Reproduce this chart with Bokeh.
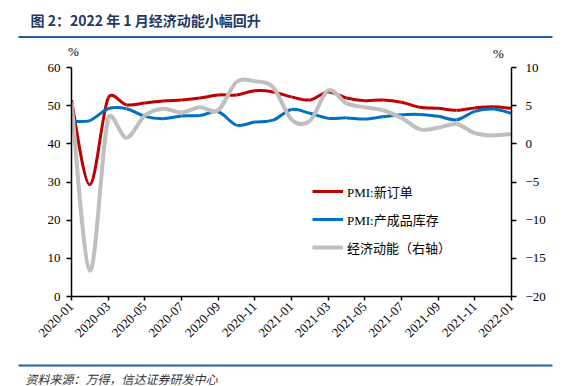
import math
from bokeh.plotting import figure
from bokeh.models import (Range1d, LinearAxis, FixedTicker, Label, BoxAnnotation,
                          Legend, LegendItem, ColumnDataSource)
from bokeh.embed import file_html
from bokeh.resources import INLINE

# ---------------- data ----------------
months = ["2020-01", "2020-02", "2020-03", "2020-04", "2020-05", "2020-06", "2020-07",
          "2020-08", "2020-09", "2020-10", "2020-11", "2020-12", "2021-01", "2021-02",
          "2021-03", "2021-04", "2021-05", "2021-06", "2021-07", "2021-08", "2021-09",
          "2021-10", "2021-11", "2021-12", "2022-01"]
pmi_new_orders = [51.4, 29.3, 52.0, 50.2, 50.7, 51.2, 51.5, 52.0, 52.8, 52.8, 53.9, 53.6,
                  52.3, 51.5, 53.6, 52.0, 51.3, 51.5, 50.9, 49.6, 49.3, 48.8, 49.4, 49.7, 49.3]
pmi_inventory = [46.0, 46.1, 49.2, 49.2, 47.2, 46.6, 47.3, 47.4, 48.4, 44.9, 45.7, 46.2,
                 49.0, 48.0, 46.7, 46.8, 46.5, 47.1, 47.6, 47.7, 47.2, 46.3, 48.5, 49.1, 48.0]
momentum = [5.5, -16.6, 3.3, 0.8, 3.7, 4.6, 4.1, 4.8, 4.4, 8.1, 8.2, 7.4,
            3.2, 3.0, 7.0, 5.3, 4.8, 4.4, 3.4, 1.9, 2.1, 2.6, 1.4, 1.1, 1.3]
left_ticks = [0, 10, 20, 30, 40, 50, 60]
right_ticks = [-20, -15, -10, -5, 0, 5, 10]
x_tick_months = months[::2]

names = ["PMI:新订单", "PMI:产成品库存", "经济动能（右轴）"]
colors = ["#C00000", "#0070C0", "#BFBFBF"]
title_text = "图 2：2022 年 1 月经济动能小幅回升"
source_text = "资料来源：万得，信达证券研发中心"

xs = list(range(len(months)))

W = 579
TOP_H, MAIN_H, BOT_H = 60, 298, 28
FL, FR, FT, FB = 71, 68, 7, 62          # borders around the main plotting frame
px_x = (W - FL - FR) / (len(months) - 1)
frame_h = MAIN_H - FT - FB
RULE = "#2062A4"


def smooth_segments(x, y, ypx):
    """Excel-like smoothing: Bezier control points, curve passes through every value."""
    n = len(x)
    pts = [(xi * px_x, yi * ypx) for xi, yi in zip(x, y)]

    def dist(a, b):
        return math.hypot(pts[a][0] - pts[b][0], pts[a][1] - pts[b][1])

    d = dict(x0=[], y0=[], x1=[], y1=[], cx0=[], cy0=[], cx1=[], cy1=[])
    for i in range(n - 1):
        i0 = max(i - 1, 0)
        i3 = min(i + 2, n - 1)
        d12 = dist(i, i + 1)
        d02 = dist(i0, i + 1)
        d13 = dist(i, i3)
        f0 = 1 / 6 if d02 / 6 < d12 / 2 else (d12 / 2) / d02
        f1 = 1 / 6 if d13 / 6 < d12 / 2 else (d12 / 2) / d13
        d["x0"].append(x[i]); d["y0"].append(y[i])
        d["x1"].append(x[i + 1]); d["y1"].append(y[i + 1])
        d["cx0"].append(x[i] + (x[i + 1] - x[i0]) * f0)
        d["cy0"].append(y[i] + (y[i + 1] - y[i0]) * f0)
        d["cx1"].append(x[i + 1] - (x[i3] - x[i]) * f1)
        d["cy1"].append(y[i + 1] - (y[i3] - y[i]) * f1)
    return ColumnDataSource(d)


def blank_fig(h):
    f = figure(width=W, height=h, output_backend="svg", toolbar_location=None,
               x_range=Range1d(0, W), y_range=Range1d(h, 0),
               x_axis_type=None, y_axis_type=None, min_border=0)
    f.outline_line_color = None
    f.xgrid.visible = False
    f.ygrid.visible = False
    f.background_fill_color = "white"
    f.border_fill_color = "white"
    return f


# ---------------- header: title, rule, unit marks ----------------
top = blank_fig(TOP_H)
top.add_layout(Label(x=30, y=19, text=title_text,
                     text_font="Noto Sans CJK SC", text_font_style="bold",
                     text_font_size="14px", text_color="#1F3864",
                     text_align="left", text_baseline="middle"))
top.add_layout(BoxAnnotation(left=18, right=552, top=35.5, bottom=37.5,
                             fill_color=RULE, fill_alpha=1, line_color=None))
top.add_layout(Label(x=73, y=51, text="%", text_font="Liberation Serif",
                     text_font_size="13px", text_color="black",
                     text_align="center", text_baseline="middle"))
top.add_layout(Label(x=498, y=52.5, text="%", text_font="Liberation Serif",
                     text_font_size="13px", text_color="black",
                     text_align="center", text_baseline="middle"))

# ---------------- main chart ----------------
p = figure(width=W, height=MAIN_H, output_backend="svg", toolbar_location=None,
           x_range=Range1d(0, len(months) - 1), y_range=Range1d(0, 60),
           min_border_left=FL, min_border_right=FR, min_border_top=FT, min_border_bottom=FB)
p.outline_line_color = None
p.xgrid.visible = False
p.ygrid.visible = False
p.background_fill_color = "white"
p.border_fill_color = "white"
p.extra_y_ranges = {"right": Range1d(-20, 10)}

tick_font = "Liberation Serif"


def style_axis(ax, standoff, tick_out=5):
    ax.axis_line_color = "black"
    ax.axis_line_width = 1.5
    ax.major_tick_line_color = "black"
    ax.major_tick_line_width = 1.5
    ax.major_tick_out = tick_out
    ax.major_tick_in = 0
    ax.minor_tick_line_color = None
    ax.major_label_text_font = tick_font
    ax.major_label_text_font_size = "13px"
    ax.major_label_text_color = "black"
    ax.major_label_standoff = standoff


ya = p.yaxis[0]
ya.ticker = FixedTicker(ticks=left_ticks)
style_axis(ya, 6)

ra = LinearAxis(y_range_name="right", ticker=FixedTicker(ticks=right_ticks))
style_axis(ra, 9)
p.add_layout(ra, "right")

xa = p.xaxis[0]
xa.ticker = FixedTicker(ticks=xs[::2])
xa.major_label_overrides = {i: m for i, m in zip(xs[::2], x_tick_months)}
xa.major_label_orientation = math.pi / 4
style_axis(xa, 4, 4)

series = [(pmi_new_orders, "default", 3, frame_h / 60),
          (pmi_inventory, "default", 3, frame_h / 60),
          (momentum, "right", 4, frame_h / 30)]
legend_items = []
for (vals, rng, lw, ypx), name, col in zip(series, names, colors):
    src = smooth_segments(xs, vals, ypx)
    p.bezier(x0="x0", y0="y0", x1="x1", y1="y1", cx0="cx0", cy0="cy0", cx1="cx1", cy1="cy1",
             source=src, line_color=col, line_width=lw, y_range_name=rng)
    proxy = p.line(x=xs[:1], y=vals[:1], line_color=col, line_width=lw, y_range_name=rng)
    legend_items.append(LegendItem(label=name, renderers=[proxy]))

legend = Legend(items=legend_items, location=(241, 39), orientation="vertical",
                label_text_font="Liberation Serif, Noto Sans CJK SC",
                label_text_font_size="13px", label_text_color="black",
                glyph_width=31, glyph_height=20, spacing=8, padding=0, margin=0,
                label_standoff=4, border_line_color=None, background_fill_alpha=0)
p.add_layout(legend, "center")

# ---------------- footer: rule and source ----------------
bot = blank_fig(BOT_H)
bot.add_layout(BoxAnnotation(left=18, right=552, top=6, bottom=8,
                             fill_color=RULE, fill_alpha=1, line_color=None))
bot.add_layout(Label(x=25, y=20, text=source_text,
                     text_font="Noto Sans CJK SC", text_font_style="italic",
                     text_font_size="12px", text_color="#333333",
                     text_align="left", text_baseline="middle"))

# three independent roots (stacked), so the header/footer frames are not aligned to the chart
open("out.html", "w").write(file_html([top, p, bot], INLINE))
